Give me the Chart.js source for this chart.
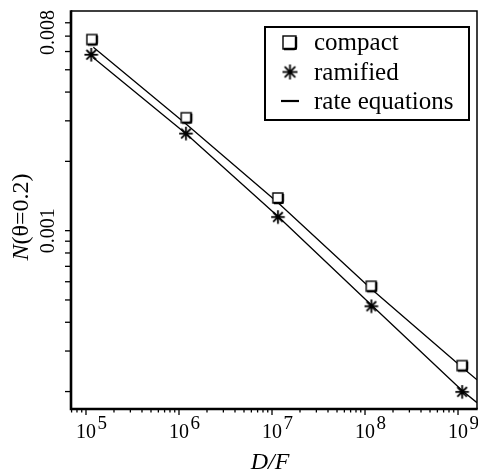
<!DOCTYPE html>
<html>
<head>
<meta charset="utf-8">
<script src="https://cdn.jsdelivr.net/npm/chart.js@4/dist/chart.umd.min.js"></script>
<style>
  html, body { margin: 0; padding: 0; background: #fff; }
  #wrap { width: 478px; height: 470px; }
</style>
</head>
<body>
<div id="wrap"><canvas id="myChart" width="478" height="470"></canvas></div>
<script>
// D/F values and island densities
const dfCompact = [1.17e5, 1.21e6, 1.17e7, 1.18e8, 1.12e9];
const nCompact = [0.00673, 0.00308, 0.00138, 0.000571, 0.000258];
const dfRamified = [1.13e5, 1.18e6, 1.15e7, 1.16e8, 1.10e9];
const nRamified = [0.00583, 0.00265, 0.00115, 0.000471, 0.000200];
// rate equation curves
const dfRate = [1.2e5, 1.2e6, 1.17e7, 1.17e8, 1.12e9, 1.6e9];
const nRateUpper = [0.00627, 0.00290, 0.00132, 0.000558, 0.000254, 0.000225];
const nRateLower = [0.00564, 0.00263, 0.00115, 0.000475, 0.000201, 0.000179];
// axes
const xMin = 6.9e4, xMax = 1.6e9;
const yMin = 0.000168, yMax = 0.009;
const xTickExp = [5, 6, 7, 8, 9];
const yTickValues = [0.008, 0.001];
const yTickLabels = ["0.008", "0.001"];
const legendLabels = ["compact", "ramified", "rate equations"];

const serif = "'Liberation Serif', 'DejaVu Serif', serif";

function makeSquare(s) {
    let c = document.createElement("canvas");
    c.width = s + 5; c.height = s + 5;
    let g = c.getContext("2d");
    g.fillStyle = "#fff";
    g.fillRect(2, 2, s, s);
    g.strokeStyle = "#000";
    g.lineWidth = 1.4;
    g.strokeRect(2, 2, s, s);
    // heavier right and bottom edge
    g.lineWidth = 2.4;
    g.beginPath();
    g.moveTo(s + 2, 3);
    g.lineTo(s + 2, s);
    g.quadraticCurveTo(s + 2, s + 2, s, s + 2);
    g.lineTo(3, s + 2);
    g.stroke();
    return c;
}

function makeStar(r) {
    let c = document.createElement("canvas");
    c.width = 2 * r + 4; c.height = 2 * r + 4;
    let g = c.getContext("2d");
    g.strokeStyle = "#000";
    g.lineWidth = 1.8;
    g.translate(r + 2, r + 2);
    for (let a = 0; a < 4; a++) {
        g.save();
        g.rotate(a * Math.PI / 4);
        g.beginPath();
        g.moveTo(0, -r);
        g.lineTo(0, r);
        g.stroke();
        g.restore();
    }
    g.fillStyle = "#000";
    g.beginPath();
    g.arc(0, 0, 2.3, 0, Math.PI * 2);
    g.fill();
    return c;
}

const squareImg = makeSquare(10);
const starImg = makeStar(6.8);
const squareLegend = makeSquare(13);
const starLegend = makeStar(7.5);

function toPoints(xs, ys) {
    let pts = [];
    for (let i = 0; i < xs.length; i++)
        pts.push({ x: xs[i], y: ys[i] });
    return pts;
}

const paperPlugin = {
    id: "paper",
    beforeDraw(chart) {
        let ctx = chart.ctx;
        ctx.save();
        ctx.fillStyle = "#fff";
        ctx.fillRect(0, 0, chart.width, chart.height);
        ctx.restore();
    },
    afterDraw(chart) {
        let ctx = chart.ctx;
        let a = chart.chartArea;
        let xs = chart.scales.x, ys = chart.scales.y;
        ctx.save();
        ctx.strokeStyle = "#000";
        ctx.fillStyle = "#000";

        // frame: heavier left and bottom
        ctx.lineWidth = 1.5;
        ctx.beginPath();
        ctx.moveTo(a.left, a.top); ctx.lineTo(a.right, a.top); ctx.lineTo(a.right, a.bottom);
        ctx.stroke();
        ctx.lineWidth = 2.6;
        ctx.beginPath();
        ctx.moveTo(a.left, a.top - 0.7); ctx.lineTo(a.left, a.bottom); ctx.lineTo(a.right + 0.7, a.bottom);
        ctx.stroke();

        // y ticks (outside, to the left)
        ctx.lineWidth = 1.3;
        for (let e = -4; e <= -3; e++) {
            for (let k = 1; k <= 9; k++) {
                let v = k * Math.pow(10, e);
                if (v < yMin || v > yMax) continue;
                let py = ys.getPixelForValue(v);
                ctx.beginPath();
                ctx.moveTo(a.left - 6, py); ctx.lineTo(a.left, py);
                ctx.stroke();
            }
        }
        // x ticks (outside, below)
        for (let e = 4; e <= 9; e++) {
            for (let k = 1; k <= 9; k++) {
                let v = k * Math.pow(10, e);
                if (v < xMin || v > xMax) continue;
                let px = xs.getPixelForValue(v);
                let len = k == 1 ? 6 : 3.5;
                ctx.beginPath();
                ctx.moveTo(px, a.bottom); ctx.lineTo(px, a.bottom + len);
                ctx.stroke();
            }
        }

        // x tick labels 10^n
        ctx.textBaseline = "alphabetic";
        for (let i = 0; i < xTickExp.length; i++) {
            let px = xs.getPixelForValue(Math.pow(10, xTickExp[i]));
            ctx.font = "20px " + serif;
            ctx.textAlign = "center";
            ctx.fillText("10", px, a.bottom + 29);
            let w = ctx.measureText("10").width;
            ctx.font = "19px " + serif;
            ctx.textAlign = "left";
            ctx.fillText(String(xTickExp[i]), px + w / 2 + 1.5, a.bottom + 20);
        }

        // y tick labels, rotated
        ctx.font = "20px " + serif;
        ctx.textAlign = "center";
        ctx.textBaseline = "middle";
        for (let i = 0; i < yTickValues.length; i++) {
            let py = ys.getPixelForValue(yTickValues[i]);
            let half = ctx.measureText(yTickLabels[i]).width / 2;
            py = Math.max(py, half + 10);
            ctx.save();
            ctx.translate(49, py);
            ctx.rotate(-Math.PI / 2);
            ctx.fillText(yTickLabels[i], 0, 0);
            ctx.restore();
        }

        // y title N(θ=0.2)
        ctx.save();
        ctx.translate(22, 217);
        ctx.rotate(-Math.PI / 2);
        ctx.textBaseline = "middle";
        ctx.textAlign = "left";
        ctx.font = "italic 24px " + serif;
        let wN = ctx.measureText("N").width;
        ctx.font = "24px " + serif;
        let wRest = ctx.measureText("(θ=0.2)").width;
        let x0 = -(wN + wRest) / 2;
        ctx.font = "italic 24px " + serif;
        ctx.fillText("N", x0, 0);
        ctx.font = "24px " + serif;
        ctx.fillText("(θ=0.2)", x0 + wN, 0);
        ctx.restore();

        // x title D/F
        ctx.font = "italic 24px " + serif;
        ctx.textAlign = "center";
        ctx.textBaseline = "alphabetic";
        ctx.fillText("D/F", 270, 469);

        // legend box
        ctx.lineWidth = 2;
        ctx.strokeRect(265, 27, 204, 93);
        let rows = [43, 72, 101];
        ctx.drawImage(squareLegend, 290 - squareLegend.width / 2, rows[0] - squareLegend.height / 2);
        ctx.drawImage(starLegend, 290 - starLegend.width / 2, rows[1] - starLegend.height / 2);
        ctx.lineWidth = 2.2;
        ctx.beginPath();
        ctx.moveTo(281, rows[2]); ctx.lineTo(299, rows[2]);
        ctx.stroke();
        ctx.font = "25px " + serif;
        ctx.textAlign = "left";
        ctx.textBaseline = "alphabetic";
        let base = [50, 80, 109];
        for (let i = 0; i < legendLabels.length; i++)
            ctx.fillText(legendLabels[i], 314, base[i]);

        ctx.restore();
    }
};

new Chart(document.getElementById("myChart"), {
    type: "scatter",
    data: {
        datasets: [
            {
                label: "compact",
                data: toPoints(dfCompact, nCompact),
                pointStyle: squareImg,
                pointRadius: 7,
                showLine: false
            },
            {
                label: "ramified",
                data: toPoints(dfRamified, nRamified),
                pointStyle: starImg,
                pointRadius: 7,
                showLine: false
            },
            {
                label: "rate equations",
                data: toPoints(dfRate, nRateUpper),
                showLine: true,
                pointRadius: 0,
                borderColor: "#000",
                borderWidth: 1.3,
                fill: false
            },
            {
                label: "rate equations (ramified)",
                data: toPoints(dfRate, nRateLower),
                showLine: true,
                pointRadius: 0,
                borderColor: "#000",
                borderWidth: 1.3,
                fill: false
            }
        ]
    },
    options: {
        responsive: false,
        animation: false,
        layout: { autoPadding: false, padding: { left: 71, top: 11, right: 1, bottom: 61 } },
        plugins: { legend: { display: false }, tooltip: { enabled: false } },
        scales: {
            x: {
                type: "logarithmic",
                min: xMin, max: xMax,
                grid: { display: false },
                border: { display: false },
                ticks: { display: false },
                afterFit: function (s) { s.height = 0; s.paddingLeft = 0; s.paddingRight = 0; }
            },
            y: {
                type: "logarithmic",
                min: yMin, max: yMax,
                grid: { display: false },
                border: { display: false },
                ticks: { display: false },
                afterFit: function (s) { s.width = 0; s.paddingTop = 0; s.paddingBottom = 0; }
            }
        }
    },
    plugins: [paperPlugin]
});
</script>
</body>
</html>
